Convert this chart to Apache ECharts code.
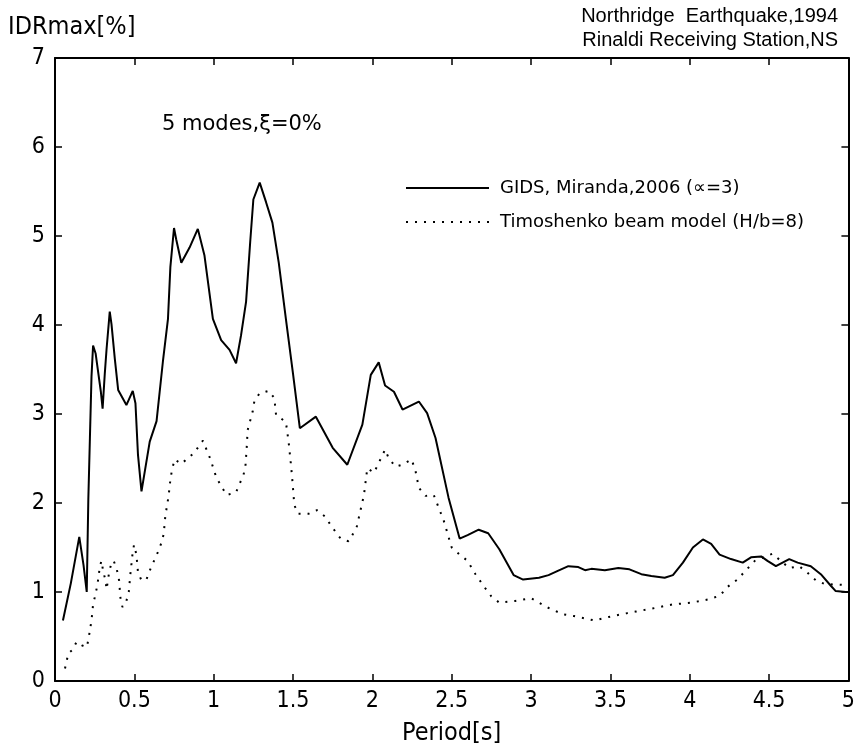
<!DOCTYPE html>
<html>
<head>
<meta charset="utf-8">
<script src="https://cdn.jsdelivr.net/npm/echarts@6/dist/echarts.min.js"></script>
<style>
  html, body { margin: 0; padding: 0; background: #fff; }
  #chart { width: 858px; height: 751px; }
</style>
</head>
<body>
<div id="chart"></div>
<script>
// GIDS, Miranda 2006 (solid)
var gidsPeriod = [0.05, 0.1, 0.153, 0.18, 0.2, 0.21, 0.22, 0.23, 0.24, 0.256, 0.266, 0.289, 0.30, 0.314, 0.325, 0.345, 0.356, 0.377, 0.398, 0.45, 0.49, 0.507, 0.523, 0.545, 0.597, 0.64, 0.68, 0.712, 0.727, 0.75, 0.764, 0.796, 0.848, 0.90, 0.942, 0.995, 1.047, 1.10, 1.141, 1.172, 1.204, 1.23, 1.25, 1.29, 1.33, 1.37, 1.41, 1.455, 1.50, 1.543, 1.644, 1.75, 1.842, 1.937, 1.99, 2.04, 2.08, 2.136, 2.19, 2.293, 2.345, 2.398, 2.48, 2.55, 2.6, 2.67, 2.73, 2.8, 2.89, 2.95, 3.05, 3.11, 3.172, 3.235, 3.298, 3.34, 3.38, 3.465, 3.55, 3.62, 3.695, 3.758, 3.842, 3.894, 3.957, 4.02, 4.083, 4.135, 4.188, 4.26, 4.334, 4.386, 4.45, 4.49, 4.543, 4.627, 4.68, 4.763, 4.826, 4.889, 4.92, 4.983, 5.0];
var gidsIDR = [0.68, 1.1, 1.62, 1.3, 1.0, 2.04, 2.73, 3.42, 3.77, 3.68, 3.55, 3.25, 3.06, 3.46, 3.73, 4.15, 4.01, 3.62, 3.27, 3.10, 3.26, 3.12, 2.54, 2.13, 2.69, 2.92, 3.59, 4.07, 4.65, 5.09, 4.96, 4.70, 4.87, 5.08, 4.78, 4.07, 3.83, 3.72, 3.57, 3.88, 4.26, 4.93, 5.41, 5.60, 5.38, 5.15, 4.70, 4.07, 3.45, 2.84, 2.97, 2.62, 2.43, 2.88, 3.44, 3.58, 3.32, 3.25, 3.05, 3.14, 3.01, 2.73, 2.06, 1.60, 1.64, 1.70, 1.66, 1.48, 1.19, 1.14, 1.16, 1.19, 1.24, 1.29, 1.28, 1.245, 1.26, 1.245, 1.27, 1.255, 1.20, 1.18, 1.16, 1.19, 1.33, 1.50, 1.59, 1.54, 1.42, 1.37, 1.33, 1.39, 1.40, 1.35, 1.29, 1.37, 1.33, 1.29, 1.20, 1.07, 1.01, 1.00, 1.00];

// Timoshenko beam model (dotted)
var timoPeriod = [0.063, 0.084, 0.11, 0.136, 0.17, 0.2, 0.21, 0.22, 0.23, 0.24, 0.256, 0.268, 0.283, 0.293, 0.303, 0.318, 0.325, 0.341, 0.356, 0.37, 0.39, 0.404, 0.412, 0.425, 0.45, 0.465, 0.475, 0.488, 0.498, 0.513, 0.523, 0.545, 0.576, 0.597, 0.624, 0.649, 0.67, 0.685, 0.695, 0.705, 0.716, 0.727, 0.737, 0.754, 0.796, 0.842, 0.875, 0.932, 0.978, 1.016, 1.047, 1.082, 1.141, 1.162, 1.187, 1.2, 1.208, 1.214, 1.246, 1.256, 1.288, 1.346, 1.382, 1.393, 1.455, 1.472, 1.487, 1.497, 1.508, 1.53, 1.6, 1.65, 1.7, 1.75, 1.8, 1.85, 1.9, 1.947, 1.968, 2.01, 2.04, 2.08, 2.104, 2.146, 2.188, 2.247, 2.272, 2.293, 2.335, 2.387, 2.45, 2.5, 2.55, 2.6, 2.65, 2.7, 2.75, 2.8, 2.9, 3.0, 3.1, 3.2, 3.27, 3.4, 3.49, 3.6, 3.66, 3.78, 3.89, 4.01, 4.125, 4.19, 4.24, 4.30, 4.355, 4.41, 4.52, 4.627, 4.69, 4.74, 4.795, 4.85, 4.96, 5.0];
var timoIDR = [0.14, 0.31, 0.35, 0.44, 0.40, 0.38, 0.46, 0.57, 0.68, 0.86, 0.98, 1.09, 1.29, 1.35, 1.24, 1.13, 1.03, 1.22, 1.33, 1.35, 1.25, 1.13, 0.94, 0.83, 0.9, 1.0, 1.2, 1.42, 1.53, 1.42, 1.22, 1.13, 1.14, 1.24, 1.35, 1.45, 1.55, 1.65, 1.85, 1.96, 2.08, 2.26, 2.37, 2.49, 2.44, 2.51, 2.56, 2.70, 2.50, 2.29, 2.19, 2.09, 2.12, 2.21, 2.31, 2.41, 2.62, 2.82, 3.03, 3.14, 3.23, 3.26, 3.18, 2.99, 2.91, 2.69, 2.43, 2.23, 1.98, 1.88, 1.88, 1.92, 1.85, 1.72, 1.6, 1.57, 1.72, 2.09, 2.39, 2.34, 2.45, 2.60, 2.50, 2.41, 2.43, 2.49, 2.36, 2.17, 2.08, 2.09, 1.8, 1.5, 1.42, 1.35, 1.2, 1.07, 0.95, 0.88, 0.9, 0.93, 0.83, 0.75, 0.73, 0.68, 0.72, 0.76, 0.78, 0.82, 0.86, 0.88, 0.92, 0.96, 1.06, 1.14, 1.245, 1.35, 1.43, 1.27, 1.29, 1.22, 1.13, 1.09, 1.08, 1.05];

var seriesNames = ['GIDS, Miranda,2006 (\u221d=3)', 'Timoshenko beam model (H/b=8)'];

function zip(xs, ys) {
  return xs.map(function (x, i) { return [x, ys[i]]; });
}

var narrow = '"Liberation Sans Narrow", "DejaVu Sans Condensed", sans-serif';
var chart = echarts.init(document.getElementById('chart'), null, { renderer: 'canvas' });

var tickStyle = { show: true, inside: true, length: 7, lineStyle: { color: '#000', width: 1.5 } };
var lineAx = { show: true, onZero: false, lineStyle: { color: '#000', width: 2 } };

var option = {
  backgroundColor: '#fff',
  animation: false,
  grid: { left: 55, right: 7, top: 58, bottom: 67 },
  legend: {
    orient: 'vertical',
    left: 400,
    top: 174,
    itemWidth: 83,
    itemHeight: 14,
    itemGap: 16,
    data: seriesNames,
    itemStyle: { opacity: 0 },
    textStyle: { fontFamily: '"DejaVu Sans", sans-serif', fontSize: 18, color: '#000', padding: [0, 0, 0, 6] }
  },
  xAxis: [{
    type: 'value', min: 0, max: 5, interval: 0.5, position: 'bottom',
    name: 'Period[s]', nameLocation: 'middle', nameGap: 40,
    nameTextStyle: { fontFamily: narrow, fontSize: 25, color: '#000' },
    axisLine: lineAx, axisTick: tickStyle, splitLine: { show: false },
    axisLabel: { fontFamily: narrow, fontSize: 23, color: '#000', margin: 9 }
  }, {
    type: 'value', min: 0, max: 5, interval: 0.5, position: 'top',
    axisLine: lineAx, axisTick: tickStyle, splitLine: { show: false },
    axisLabel: { show: false }
  }],
  yAxis: [{
    type: 'value', min: 0, max: 7, interval: 1, position: 'left',
    axisLine: lineAx, axisTick: tickStyle, splitLine: { show: false },
    axisLabel: { fontFamily: narrow, fontSize: 23, color: '#000', margin: 10 }
  }, {
    type: 'value', min: 0, max: 7, interval: 1, position: 'right',
    axisLine: lineAx, axisTick: tickStyle, splitLine: { show: false },
    axisLabel: { show: false }
  }],
  graphic: [
    { type: 'text', left: 8, top: 15, style: { text: 'IDRmax[%]', fontFamily: narrow, fontSize: 25, fill: '#000' } },
    { type: 'text', right: 20, top: 6, style: { text: 'Northridge  Earthquake,1994', fontFamily: '"Liberation Sans", sans-serif', fontSize: 20, fill: '#000' } },
    { type: 'text', right: 20, top: 30, style: { text: 'Rinaldi Receiving Station,NS', fontFamily: '"Liberation Sans", sans-serif', fontSize: 20, fill: '#000' } },
    { type: 'text', left: 162, top: 114, style: { text: '5 modes,\u03be=0%', fontFamily: '"DejaVu Sans", sans-serif', fontSize: 21, fill: '#000' } }
  ],
  series: [{
    name: seriesNames[0],
    type: 'line',
    symbol: 'none',
    data: zip(gidsPeriod, gidsIDR),
    lineStyle: { color: '#000', width: 2 },
    itemStyle: { color: '#000' }
  }, {
    name: seriesNames[1],
    type: 'line',
    symbol: 'none',
    data: zip(timoPeriod, timoIDR),
    lineStyle: { color: '#000', width: 2, type: [2, 7] },
    itemStyle: { color: '#000' }
  }]
};

chart.setOption(option);
</script>
</body>
</html>
